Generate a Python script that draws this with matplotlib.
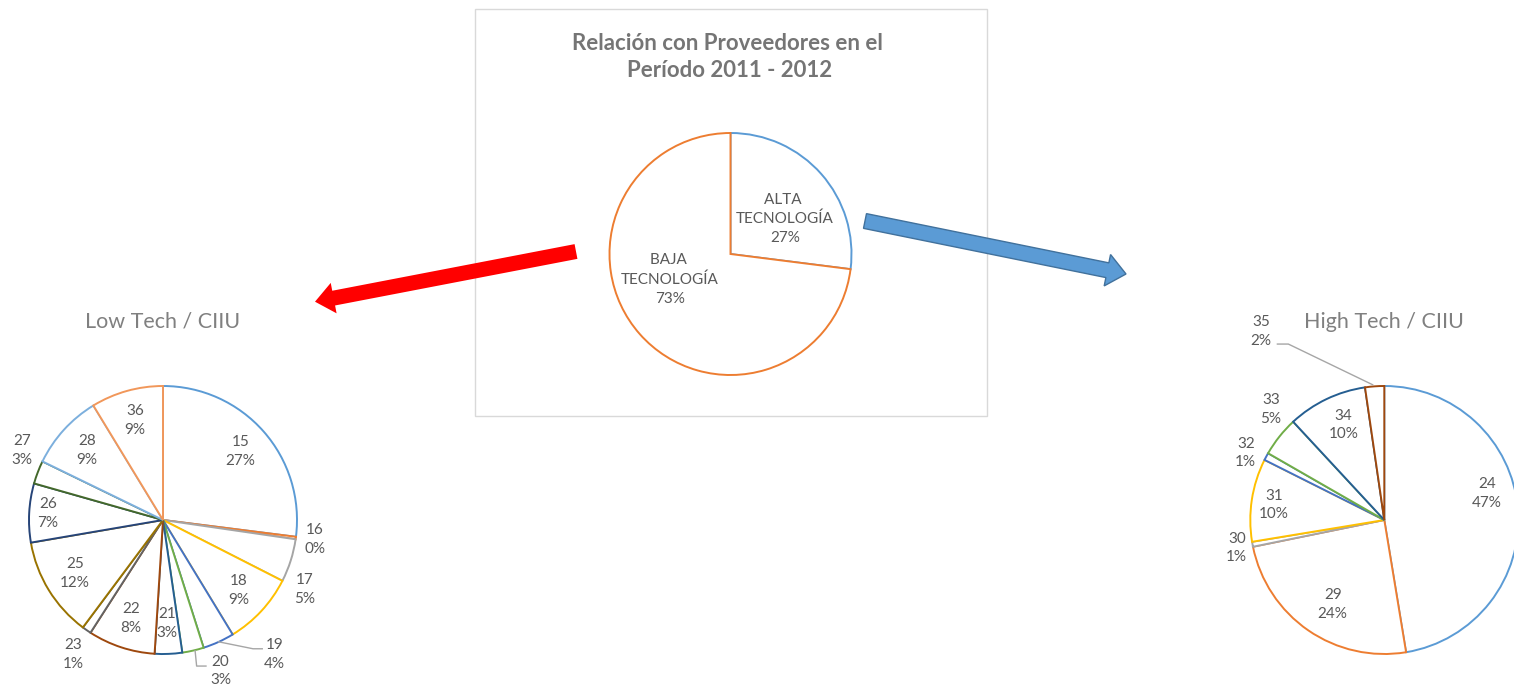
import numpy as np
import matplotlib.pyplot as plt
from matplotlib.patches import FancyArrow, Rectangle

plt.rcParams["font.family"] = ["Lato", "DejaVu Sans"]

W, H = 1514, 687

# central chart
main_title = "Relación con Proveedores en el \nPeríodo 2011 - 2012"
main_labels = ["ALTA \nTECNOLOGÍA", "BAJA \nTECNOLOGÍA"]
main_values = [27, 73]

# low tech by CIIU
low_title = "Low Tech / CIIU"
low_codes = ["15", "16", "17", "18", "19", "20", "21", "22", "23", "25", "26", "27", "28", "36"]
low_values = [27.0, 0.3, 5.2, 8.8, 3.8, 2.6, 3.3, 8.1, 1.1, 12.1, 7.1, 2.8, 9.1, 8.7]

# high tech by CIIU
high_title = "High Tech / CIIU"
high_codes = ["24", "29", "30", "31", "32", "33", "34", "35"]
high_values = [47.4, 24.4, 0.6, 10.0, 0.9, 4.8, 9.6, 2.3]

OFFICE = ["#5B9BD5", "#ED7D31", "#A5A5A5", "#FFC000", "#4472C4", "#70AD47",
          "#255E91", "#9E480E", "#636363", "#997300", "#264478", "#43682B",
          "#7CAFDD", "#F1975A"]
TXT = "#595959"
LBL_SIZE = 11
LBL_SPACING = 1.45


def px(x, y):
    # pixel position (from top-left) -> data coords
    return x, H - y


def draw_pie(ax, center, radius, values, lw=1.4):
    wedges, _ = ax.pie(values, center=center, radius=radius, startangle=90,
                       counterclock=False, colors=["white"] * len(values),
                       wedgeprops=dict(linewidth=lw))
    for w, c in zip(wedges, OFFICE):
        w.set_edgecolor(c)
    return wedges


def label_pie(ax, wedges, center, radius, codes, values, overrides, dist=0.77):
    total = sum(values)
    for w, code, v in zip(wedges, codes, values):
        if code in overrides:
            ux, uy = overrides[code]
        else:
            a = np.deg2rad((w.theta1 + w.theta2) / 2)
            ux, uy = dist * np.cos(a), dist * np.sin(a)
        ax.text(center[0] + ux * radius, center[1] + uy * radius,
                f"{code}\n{round(100 * v / total)}%", ha="center", va="center",
                fontsize=LBL_SIZE, color=TXT, linespacing=LBL_SPACING)


def leader(ax, center, radius, pts):
    xs = [center[0] + p[0] * radius for p in pts]
    ys = [center[1] + p[1] * radius for p in pts]
    ax.plot(xs, ys, color="#A6A6A6", lw=1, solid_capstyle="butt")


fig = plt.figure(figsize=(W / 100, H / 100), dpi=100)
ax = fig.add_axes([0, 0, 1, 1])

# frame of the central chart
ax.add_patch(Rectangle(px(474.5, 416), 512, 407.5, fill=False, edgecolor="#D9D9D9", lw=1))

# central pie
c_main, r_main = px(730.5, 254), 121
wm = draw_pie(ax, c_main, r_main, main_values)
for w, lab, v, (ux, uy) in zip(wm, main_labels, main_values, [(0.45, 0.29), (-0.5, -0.21)]):
    ax.text(c_main[0] + ux * r_main, c_main[1] + uy * r_main, f"{lab}\n{v}%",
            ha="center", va="center", fontsize=LBL_SIZE, color=TXT, linespacing=LBL_SPACING)
ax.text(*px(730, 57), main_title, ha="center", va="center", fontsize=16,
        fontweight="bold", color="#757575", linespacing=1.4)

# low tech pie
c_low, r_low = px(163, 520), 134
wl = draw_pie(ax, c_low, r_low, low_values)
low_pos = {
    "16": (1.134, -0.149), "17": (1.06, -0.522), "19": (0.83, -1.007),
    "20": (0.43, -1.127), "23": (-0.672, -1.007), "27": (-1.054, 0.522),
    "26": (-0.858, 0.052),
}
label_pie(ax, wl, c_low, r_low, low_codes, low_values, low_pos)
leader(ax, c_low, r_low, [(0.41, -0.908), (0.672, -0.961), (0.746, -0.961)])
leader(ax, c_low, r_low, [(0.239, -0.970), (0.251, -1.09), (0.326, -1.09)])
ax.text(*px(163, 322), low_title, ha="center", va="center", fontsize=15.5, color="#808080")

# high tech pie
c_high, r_high = px(1384.3, 520), 134
wh = draw_pie(ax, c_high, r_high, high_values)
high_pos = {
    "24": (0.766, 0.198), "29": (-0.385, -0.634), "30": (-1.101, -0.209),
    "31": (-0.823, 0.112), "32": (-1.034, 0.5), "33": (-0.846, 0.828),
    "34": (-0.306, 0.709), "35": (-0.922, 1.41),
}
label_pie(ax, wh, c_high, r_high, high_codes, high_values, high_pos)
leader(ax, c_high, r_high, [(-0.082, 1.007), (-0.716, 1.313), (-0.803, 1.313)])
ax.text(*px(1384, 322), high_title, ha="center", va="center", fontsize=15.5, color="#808080")

# arrows
tx, ty = px(576, 251.5)
hx, hy = px(315, 301.7)
ax.add_patch(FancyArrow(tx, ty, hx - tx, hy - ty, width=15, head_width=31,
                        head_length=19, length_includes_head=True,
                        facecolor="#FF0000", edgecolor="none", zorder=5))
tx, ty = px(865, 221)
hx, hy = px(1126, 274)
ax.add_patch(FancyArrow(tx, ty, hx - tx, hy - ty, width=15, head_width=32,
                        head_length=19, length_includes_head=True,
                        facecolor="#5B9BD5", edgecolor="#41719C", lw=1, zorder=5))

ax.set_xlim(0, W)
ax.set_ylim(0, H)
ax.set_aspect("equal")
ax.axis("off")

fig.savefig("out.png", dpi=100)
